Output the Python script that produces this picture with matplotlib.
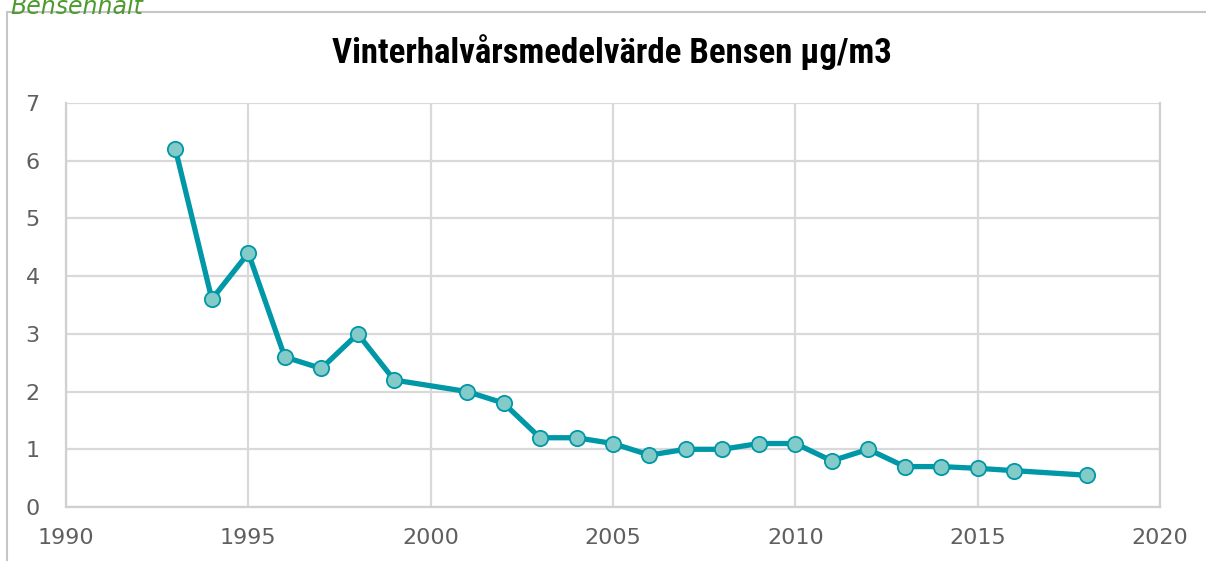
import numpy as np
import matplotlib.pyplot as plt
from matplotlib.patches import Rectangle
from matplotlib import font_manager as fm

# data
years = [1993, 1994, 1995, 1996, 1997, 1998, 1999, 2001, 2002, 2003, 2004, 2005,
         2006, 2007, 2008, 2009, 2010, 2011, 2012, 2013, 2014, 2015, 2016, 2018]
bensen = [6.2, 3.6, 4.4, 2.6, 2.4, 3.0, 2.2, 2.0, 1.8, 1.2, 1.2, 1.1,
          0.9, 1.0, 1.0, 1.1, 1.1, 0.8, 1.0, 0.7, 0.7, 0.67, 0.63, 0.55]
xticks = [1990, 1995, 2000, 2005, 2010, 2015, 2020]
yticks = [0, 1, 2, 3, 4, 5, 6, 7]

# condensed bold font for the title if one is around
names = {f.name for f in fm.fontManager.ttflist}
cond = [n for n in ['Roboto Condensed', 'DejaVu Sans Condensed', 'Liberation Sans Narrow'] if n in names]
title_font = cond[:1] + ['DejaVu Sans']

W, H = 1206, 561
fig = plt.figure(figsize=(W / 100, H / 100), dpi=100)

# outer chart frame
fig.patches.append(Rectangle((7 / W, -0.1), 1.2, (H - 12) / H + 0.1,
                             transform=fig.transFigure, fill=False,
                             edgecolor='#c6c6c6', linewidth=1.5))
fig.text(10 / W, 1.0 + 5 / H, 'Bensenhalt', color='#4e9a2e', fontsize=17,
         style='italic', ha='left', va='top')

ax = fig.add_axes([66 / W, (H - 507) / H, (1160 - 66) / W, (507 - 103) / H])
ax.plot(years, bensen, color='#0097a7', linewidth=3.8, marker='o',
        markersize=11, markerfacecolor='#83cbc8', markeredgecolor='#0097a7',
        markeredgewidth=1.3, zorder=3)

ax.set_xlim(1990, 2020)
ax.set_ylim(0, 7)
ax.set_xticks(xticks)
ax.set_yticks(yticks)
ax.grid(True, color='#d9d9d9', linewidth=1.6)
ax.set_axisbelow(True)
for s in ax.spines.values():
    s.set_color('#d0d0d0')
    s.set_linewidth(1.6)
ax.spines['top'].set_visible(False)
ax.tick_params(length=0, labelsize=16, labelcolor='#5f5f5f')
ax.tick_params(axis='x', pad=15)
ax.tick_params(axis='y', pad=19)

fig.text(612 / W, 1 - 52 / H, 'Vinterhalvårsmedelvärde Bensen µg/m3',
         family=title_font, fontweight='bold', fontstretch='condensed',
         fontsize=25 if cond else 18, ha='center', va='center', color='black')

fig.savefig('out.png', dpi=100)
